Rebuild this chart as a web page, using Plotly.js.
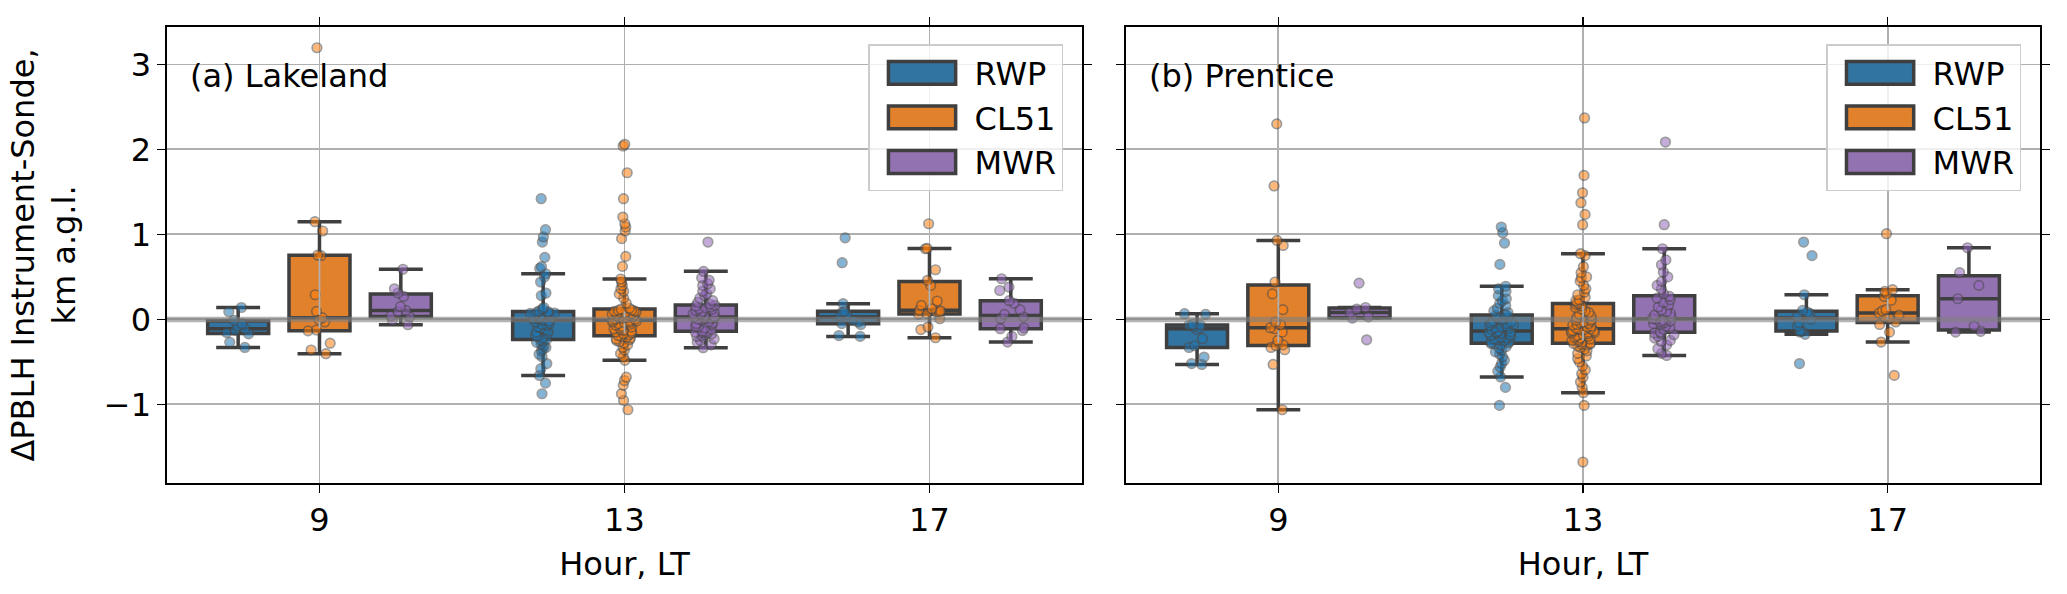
<!DOCTYPE html>
<html>
<head>
<meta charset="utf-8">
<script src="https://cdn.plot.ly/plotly-3.0.1.min.js"></script>
<style>
  html, body { margin: 0; padding: 0; background: #fff; }
  #chart { width: 2067px; height: 594px; }
</style>
</head>
<body>
<div id="chart"></div>
<script>
// ---------- categories / labels ----------
const hours = ['9', '13', '17'];
const instruments = ['RWP', 'CL51', 'MWR'];
const panelTitles = ['(a) Lakeland', '(b) Prentice'];
const yTicks = [-1, 0, 1, 2, 3];

// ---------- data: ΔPBLH (instrument − sonde), km ----------
// Lakeland
const lakeland_RWP_9 = [-0.33, -0.27, -0.17, -0.155, -0.13, -0.11, -0.08, -0.05, -0.01, 0.09, 0.14];
const lakeland_RWP_13 = [-0.875, -0.75, -0.66, -0.58, -0.52, -0.44, -0.41, -0.37, -0.35, -0.33, -0.31, -0.29, -0.27, -0.26, -0.245,
  -0.235,
  -0.22, -0.20, -0.19, -0.17, -0.15, -0.14, -0.12, -0.10, -0.09, -0.07, -0.06, -0.05, -0.03, -0.02,
  -0.01,
  0.0, 0.01, 0.02, 0.03, 0.035, 0.04, 0.05, 0.055, 0.06, 0.065, 0.07, 0.075, 0.08, 0.085,
  0.09,
  0.10, 0.12, 0.14, 0.28, 0.31, 0.44, 0.50, 0.537, 0.60, 0.62, 0.73, 0.91, 0.97, 1.055, 1.42];
const lakeland_RWP_17 = [-0.20, -0.19, -0.06, -0.05, -0.03, -0.01, 0.02, 0.035, 0.06, 0.085, 0.095, 0.185, 0.667, 0.96];

const lakeland_CL51_9 = [-0.404, -0.36, -0.28, -0.135, -0.125, -0.03, -0.004, 0.02, 0.094, 0.29, 0.749, 0.755, 1.04, 1.149, 3.196];
const lakeland_CL51_13 = [-1.063, -0.953, -0.875, -0.776, -0.72, -0.68, -0.482, -0.44, -0.40, -0.36, -0.33, -0.30, -0.28, -0.26, -0.25, -0.24, -0.23, -0.22, -0.21, -0.20,
  -0.19,
  -0.18, -0.17, -0.16, -0.15, -0.14, -0.13, -0.12, -0.11, -0.10, -0.09, -0.08, -0.07, -0.06, -0.05, -0.04, -0.035, -0.03, -0.02, -0.015,
  -0.01,
  0.0, 0.005, 0.01, 0.02, 0.025, 0.03, 0.04, 0.045, 0.05, 0.06, 0.065, 0.07, 0.08, 0.085, 0.09, 0.095, 0.10, 0.105, 0.11,
  0.12,
  0.13, 0.19, 0.25, 0.30, 0.33, 0.36, 0.40, 0.44, 0.475, 0.6235, 0.741, 0.95, 1.04, 1.086, 1.125, 1.204, 1.42, 1.725, 2.04, 2.06];
const lakeland_CL51_17 = [-0.216, -0.12, -0.09, 0.008, 0.06, 0.07, 0.086, 0.09, 0.10, 0.106, 0.125, 0.165, 0.216, 0.40, 0.46, 0.584, 0.831, 0.835, 1.125];

const lakeland_MWR_9 = [-0.063, -0.01, 0.03, 0.04, 0.09, 0.105, 0.15, 0.27, 0.31, 0.36, 0.59];
const lakeland_MWR_13 = [-0.333, -0.30, -0.27, -0.25, -0.23, -0.21, -0.20, -0.19, -0.18, -0.17, -0.16, -0.155, -0.15, -0.145,
  -0.137,
  -0.12, -0.10, -0.09, -0.08, -0.06, -0.05, -0.04, -0.03, -0.01, 0.0, 0.01, 0.015, 0.02,
  0.027,
  0.035, 0.045, 0.055, 0.065, 0.075, 0.085, 0.095, 0.105, 0.115, 0.125, 0.135, 0.145, 0.155,
  0.165,
  0.18, 0.20, 0.22, 0.25, 0.28, 0.30, 0.33, 0.36, 0.40, 0.42, 0.46, 0.49, 0.565, 0.91];
const lakeland_MWR_17 = [-0.267, -0.20, -0.13, -0.11, -0.10, 0.008, 0.03, 0.06, 0.114, 0.19, 0.22, 0.34, 0.38, 0.478];

// Prentice
const prentice_RWP_9 = [-0.53, -0.52, -0.443, -0.33, -0.31, -0.227, -0.12, -0.10, -0.085, -0.07, -0.065, -0.06, 0.06, 0.067];
const prentice_RWP_13 = [-1.012, -0.80, -0.678, -0.61, -0.56, -0.52, -0.48, -0.44, -0.41, -0.38, -0.36, -0.34, -0.32, -0.30, -0.29, -0.285,
  -0.278,
  -0.27, -0.26, -0.25, -0.24, -0.23, -0.22, -0.21, -0.20, -0.19, -0.18, -0.17, -0.16, -0.155, -0.15, -0.145,
  -0.137,
  -0.12, -0.11, -0.10, -0.09, -0.08, -0.07, -0.06, -0.05, -0.04, -0.03, -0.02, -0.01, 0.0, 0.02, 0.035,
  0.047,
  0.06, 0.08, 0.10, 0.13, 0.16, 0.19, 0.22, 0.243, 0.28, 0.33, 0.36, 0.39, 0.647, 0.898, 1.02, 1.086];
const prentice_RWP_17 = [-0.52, -0.176, -0.15, -0.14, -0.134, -0.08, -0.04, 0.0, 0.03, 0.06, 0.07, 0.085, 0.105, 0.29, 0.75, 0.91];

const prentice_CL51_9 = [-1.063, -0.53, -0.357, -0.33, -0.31, -0.30, -0.247, -0.15, -0.11, -0.098, -0.063, -0.031, 0.114, 0.30, 0.44, 0.87, 0.929, 1.57, 2.30];
const prentice_CL51_13 = [-1.678, -1.012, -0.863, -0.80, -0.737, -0.68, -0.64, -0.592, -0.55, -0.50, -0.463, -0.43, -0.40, -0.37, -0.35, -0.33, -0.315, -0.30, -0.295, -0.29, -0.285,
  -0.278,
  -0.27, -0.26, -0.25, -0.24, -0.23, -0.22, -0.21, -0.20, -0.19, -0.18, -0.17, -0.16, -0.155, -0.15, -0.14, -0.135, -0.13, -0.125, -0.12, -0.115,
  -0.11,
  -0.10, -0.09, -0.08, -0.07, -0.06, -0.05, -0.04, -0.03, -0.02, -0.01, 0.0, 0.02, 0.04, 0.06, 0.08, 0.10, 0.12, 0.14, 0.16, 0.175,
  0.184,
  0.20, 0.22, 0.23, 0.26, 0.29, 0.32, 0.36, 0.40, 0.45, 0.49, 0.50, 0.55, 0.62, 0.75, 0.773, 1.114, 1.235, 1.373, 1.49, 1.694, 2.37];
const prentice_CL51_17 = [-0.659, -0.267, -0.15, -0.06, -0.03, 0.01, 0.027, 0.05, 0.075, 0.10, 0.114, 0.224, 0.27, 0.30, 0.33, 0.35, 1.008];

const prentice_MWR_9 = [-0.24, 0.015, 0.03, 0.08, 0.12, 0.14, 0.427];
const prentice_MWR_13 = [-0.424, -0.40, -0.345, -0.30, -0.26, -0.247, -0.22, -0.20, -0.18, -0.17, -0.16,
  -0.149,
  -0.12, -0.10, -0.08, -0.06, -0.05, -0.04, -0.03, -0.02, -0.01, 0.0,
  0.008,
  0.03, 0.05, 0.07, 0.09, 0.11, 0.145, 0.17, 0.20, 0.23, 0.25,
  0.27,
  0.30, 0.36, 0.40, 0.447, 0.50, 0.557, 0.643, 0.70, 0.831, 1.114, 2.086];
const prentice_MWR_17 = [-0.149, -0.14, -0.08, 0.243, 0.40, 0.55, 0.843];

const sites = [
  { RWP: [lakeland_RWP_9, lakeland_RWP_13, lakeland_RWP_17],
    CL51: [lakeland_CL51_9, lakeland_CL51_13, lakeland_CL51_17],
    MWR: [lakeland_MWR_9, lakeland_MWR_13, lakeland_MWR_17] },
  { RWP: [prentice_RWP_9, prentice_RWP_13, prentice_RWP_17],
    CL51: [prentice_CL51_9, prentice_CL51_13, prentice_CL51_17],
    MWR: [prentice_MWR_9, prentice_MWR_13, prentice_MWR_17] }
];

// ---------- styles ----------
const boxFill = { RWP: '#3274a1', CL51: '#e1812c', MWR: '#9372b2' };
const pointColor = { RWP: '#1f77b4', CL51: '#ff7f0e', MWR: '#9467bd' };
const edgeGray = '#3f3f3f';
const FONT = 'DejaVu Sans, Liberation Sans, sans-serif';
const GRID = '#b0b0b0';
const yRange = [-1.925, 3.44];

// same quantile rule Plotly uses for its boxes
function quant(vals, p) {
  const s = vals.slice().sort((a, b) => a - b), n = s.length;
  const f = p * n - 0.5;
  if (f <= 0) return s[0];
  if (f >= n - 1) return s[n - 1];
  const lo = Math.floor(f), fr = f - lo;
  return s[lo] * (1 - fr) + s[lo + 1] * fr;
}

const traces = [];
sites.forEach((site, si) => {
  instruments.forEach(inst => {
    const xs = [], ys = [];
    site[inst].forEach((vals, hi) => {
      vals.forEach(v => { xs.push(hours[hi]); ys.push(v); });
    });
    traces.push({
      type: 'box', name: inst, x: xs, y: ys,
      xaxis: si === 0 ? 'x' : 'x2', yaxis: si === 0 ? 'y' : 'y2',
      legend: si === 0 ? 'legend' : 'legend2',
      legendgroup: 'g' + si + inst, offsetgroup: inst,
      fillcolor: boxFill[inst],
      line: { color: edgeGray, width: 3.5 },
      whiskerwidth: 0.72,
      boxpoints: 'all', jitter: 0.45, pointpos: 0,
      quartilemethod: 'linear',
      marker: { color: pointColor[inst], size: 9.5, opacity: 0.55,
                line: { color: '#4a4a4a', width: 1.7 } },
      hoverinfo: 'skip'
    });
  });
});

// The hour grid line shows through the centred (CL51) boxes, as in the matplotlib original:
// redraw it only inside those boxes (between quartiles, split at the median).
const inset = 0.03;
sites.forEach((site, si) => {
  const gx = [], gy = [];
  site.CL51.forEach((vals, hi) => {
    const q1 = quant(vals, 0.25), md = quant(vals, 0.5), q3 = quant(vals, 0.75);
    [[q1 + inset, md - inset], [md + inset, q3 - inset]].forEach(([a, b]) => {
      if (b > a) { gx.push(hours[hi], hours[hi], null); gy.push(a, b, null); }
    });
  });
  traces.push({
    type: 'scatter', mode: 'lines', x: gx, y: gy,
    xaxis: si === 0 ? 'x' : 'x2', yaxis: si === 0 ? 'y' : 'y2',
    line: { color: GRID, width: 1.8 }, showlegend: false, hoverinfo: 'skip'
  });
});

const axisCommon = {
  showline: true, linecolor: '#000', linewidth: 1.6, mirror: 'ticks',
  ticks: 'outside', ticklen: 8, tickwidth: 1.6, tickcolor: '#000',
  zeroline: false, showgrid: true, gridcolor: GRID, gridwidth: 1.8,
  tickfont: { family: FONT, size: 32, color: '#000' }
};

const xCommon = Object.assign({}, axisCommon, {
  type: 'category', categoryorder: 'array', categoryarray: hours,
  range: [-0.5, 2.5],
  title: { text: 'Hour, LT', font: { family: FONT, size: 32, color: '#000' }, standoff: 14 }
});

const shapes = [0, 1].map(i => ({
  type: 'line', layer: 'above',
  xref: (i === 0 ? 'x' : 'x2') + ' domain', yref: i === 0 ? 'y' : 'y2',
  x0: 0, x1: 1, y0: 0, y1: 0,
  line: { color: 'rgba(128,128,128,0.6)', width: 5.5 }
}));

const legendCommon = {
  xanchor: 'right', y: 0.9627, yanchor: 'top',
  bgcolor: 'rgba(255,255,255,0.8)', bordercolor: '#cccccc', borderwidth: 1.5,
  font: { family: FONT, size: 32, color: '#000' }, itemwidth: 95, tracegroupgap: 4,
  traceorder: 'normal'
};

const layout = {
  width: 2067, height: 594,
  margin: { l: 167, r: 27, t: 27, b: 111 },
  paper_bgcolor: '#fff', plot_bgcolor: '#fff',
  font: { family: FONT, size: 32, color: '#000' },
  boxmode: 'group', boxgap: 0.2, boxgroupgap: 0.25,
  showlegend: true,
  xaxis: Object.assign({}, xCommon, { domain: [0, 0.4885], anchor: 'y' }),
  xaxis2: Object.assign({}, xCommon, { domain: [0.512, 1], anchor: 'y2' }),
  yaxis: Object.assign({}, axisCommon, {
    range: yRange, tickvals: yTicks, anchor: 'x',
    title: { text: 'ΔPBLH Instrument-Sonde,<br>km a.g.l.', font: { family: FONT, size: 32, color: '#000' }, standoff: 18 }
  }),
  yaxis2: Object.assign({}, axisCommon, {
    range: yRange, tickvals: yTicks, anchor: 'x2', matches: 'y', showticklabels: false
  }),
  legend: Object.assign({}, legendCommon, { x: 0.4784 }),
  legend2: Object.assign({}, legendCommon, { x: 0.9899 }),
  annotations: panelTitles.map((t, i) => ({
    text: t, showarrow: false,
    xref: i === 0 ? 'x domain' : 'x2 domain', yref: i === 0 ? 'y domain' : 'y2 domain',
    x: 0.023, y: 0.8925, xanchor: 'left', yanchor: 'middle',
    font: { family: FONT, size: 32, color: '#000' }
  })),
  shapes: shapes
};

Plotly.newPlot('chart', traces, layout, { displayModeBar: false, staticPlot: true }).then(gd => {
  // enlarge the legend patches to matplotlib-like rectangles
  gd.querySelectorAll('g.legendpoints path').forEach(p => {
    const t = p.getAttribute('transform') || '';
    p.setAttribute('transform', t + ' scale(5.6,1.9)');
    p.setAttribute('vector-effect', 'non-scaling-stroke');
  });
});
</script>
</body>
</html>
